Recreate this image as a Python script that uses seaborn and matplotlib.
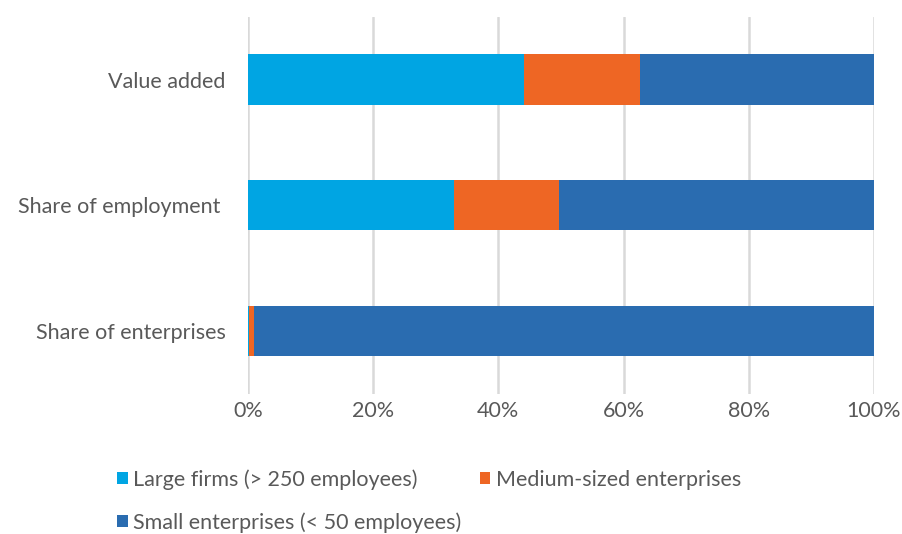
import matplotlib
matplotlib.use("Agg")
import matplotlib.pyplot as plt
from matplotlib.patches import Patch
from matplotlib.ticker import PercentFormatter
import seaborn as sns
import pandas as pd

categories = ["Value added", "Share of employment ", "Share of enterprises"]
large = [44.1, 32.9, 0.2]
medium = [18.6, 16.8, 0.8]
small = [37.3, 50.3, 99.0]
xticks = [0, 20, 40, 60, 80, 100]

series_names = ["Large firms (> 250 employees)", "Medium-sized enterprises",
                "Small enterprises (< 50 employees)"]
colors = ["#00A5E3", "#EE6624", "#2A6CB0"]

df = pd.DataFrame({"category": categories, "large": large,
                   "medium": medium, "small": small})
df["to_medium"] = df["large"] + df["medium"]
df["to_small"] = df["to_medium"] + df["small"]

sns.set_theme(style="white")
plt.rcParams["font.family"] = ["Lato", "DejaVu Sans"]
text_color = "#595959"
fs = 15.5

fig = plt.figure(figsize=(9.02, 5.34), dpi=100)
ax = fig.add_axes([0.2749, 0.263, 0.694, 0.7057])

# stacked horizontal bars: draw cumulative totals back to front
for col, color in zip(["to_small", "to_medium", "large"], colors[::-1]):
    sns.barplot(data=df, x=col, y="category", order=categories, orient="h",
                color=color, width=0.4, saturation=1, ax=ax, linewidth=0)

ax.set_xlim(0, 100)
ax.set_ylim(2.5, -0.5)
ax.set_xticks(xticks)
ax.xaxis.set_major_formatter(PercentFormatter(decimals=0))
ax.grid(axis="x", color="#D9D9D9", linewidth=1.8)
ax.set_axisbelow(True)
for s in ax.spines.values():
    s.set_visible(False)
ax.set_xlabel("")
ax.set_ylabel("")
ax.tick_params(axis="x", labelsize=fs, colors=text_color, length=0, pad=5)
ax.tick_params(axis="y", labelsize=fs, colors=text_color, length=0, pad=16)

handles = [Patch(facecolor=c, edgecolor="none") for c in colors]
order = [0, 2, 1]
fig.legend([handles[i] for i in order], [series_names[i] for i in order],
           ncol=2, loc="upper left", bbox_to_anchor=(0.1297, 0.121),
           frameon=False, fontsize=fs, labelcolor=text_color,
           handlelength=0.5, handleheight=0.5, handletextpad=0.25,
           columnspacing=0.85, labelspacing=1.02, borderaxespad=0, borderpad=0)

fig.savefig("out.png", dpi=100, facecolor="white")
